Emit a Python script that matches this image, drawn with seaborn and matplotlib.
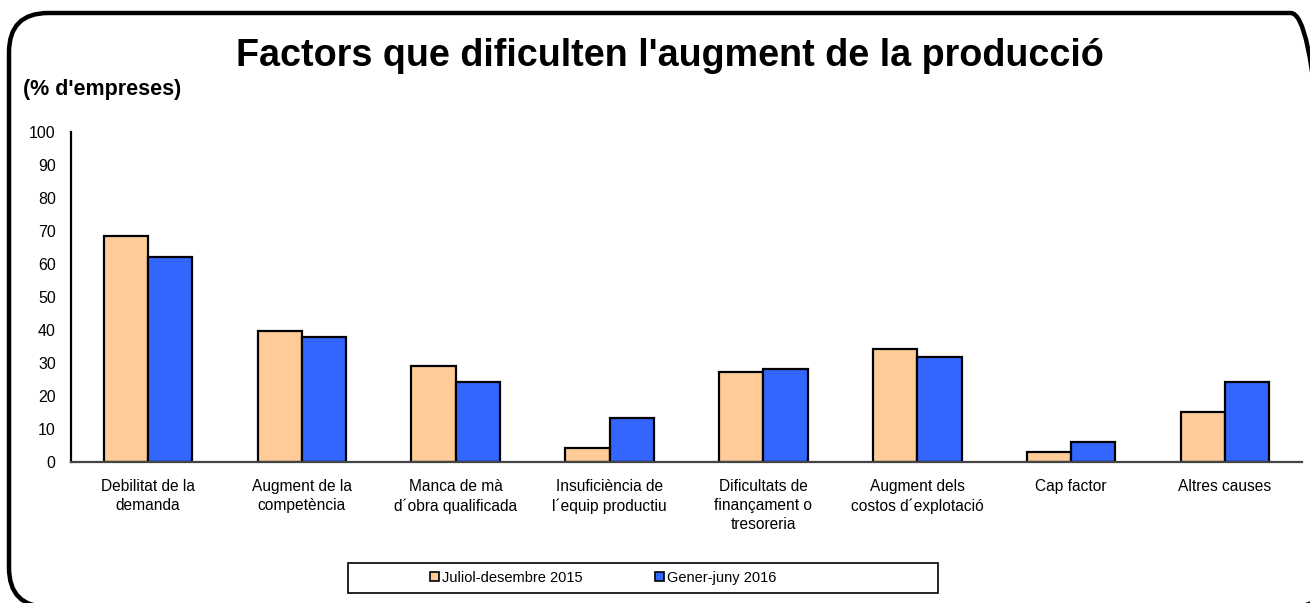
import matplotlib
matplotlib.use("Agg")
import matplotlib.pyplot as plt
import seaborn as sns
import pandas as pd
from matplotlib.patches import FancyBboxPatch, Rectangle, Patch

categories = [
    "Debilitat de la\ndemanda",
    "Augment de la\ncompetència",
    "Manca de mà\nd´obra qualificada",
    "Insuficiència de\nl´equip productiu",
    "Dificultats de\nfinançament o\ntresoreria",
    "Augment dels\ncostos d´explotació",
    "Cap factor",
    "Altres causes",
]
series_names = ["Juliol-desembre 2015", "Gener-juny 2016"]
values_2015 = [68.4, 39.8, 29.0, 4.3, 27.2, 34.3, 3.0, 15.1]
values_2016 = [62.2, 38.0, 24.2, 13.3, 28.3, 31.9, 6.1, 24.2]
colors = ["#FFCC99", "#3366FF"]
yticks = list(range(0, 101, 10))

df = pd.DataFrame({
    "cat": categories * 2,
    "val": values_2015 + values_2016,
    "serie": [series_names[0]] * len(categories) + [series_names[1]] * len(categories),
})

sns.set_style("white")
plt.rcParams["font.family"] = ["Liberation Sans", "DejaVu Sans"]
plt.rcParams["text.color"] = "black"
plt.rcParams["xtick.color"] = "black"
plt.rcParams["ytick.color"] = "black"
plt.rcParams["xtick.labelcolor"] = "black"
plt.rcParams["ytick.labelcolor"] = "black"

W, H = 1310, 603
fig = plt.figure(figsize=(W / 100, H / 100), dpi=100)
ax = fig.add_axes([71 / W, 1 - 462 / H, (1302 - 71) / W, (462 - 132) / H])

sns.barplot(data=df, x="cat", y="val", hue="serie", palette=colors,
            width=0.575, gap=0, edgecolor="black", linewidth=1.6,
            saturation=1, legend=False, ax=ax, order=categories,
            hue_order=series_names)

ax.set_xlim(-0.5, len(categories) - 0.5)
ax.set_ylim(0, 100)
ax.set_yticks(yticks)
ax.set_yticklabels([str(t) for t in yticks], fontsize=11.5, color="black")
ax.set_xticks(range(len(categories)))
ax.set_xticklabels(categories, fontsize=11.2, linespacing=1.35, color="black")
ax.set_xticks([i - 0.5 for i in range(len(categories) + 1)], minor=True)
ax.tick_params(axis="x", which="major", length=0, pad=12)
ax.tick_params(axis="x", which="minor", length=4, width=1, color="black", direction="out")
ax.tick_params(axis="y", length=5, width=1.2, color="black", direction="out", pad=6)
ax.set_xlabel("")
ax.set_ylabel("")
for s in ["top", "right"]:
    ax.spines[s].set_visible(False)
ax.spines["left"].set_color("black")
ax.spines["left"].set_linewidth(1.6)
ax.spines["bottom"].set_color("#444444")
ax.spines["bottom"].set_linewidth(1.6)

# Title and unit label
fig.text(670 / W, 1 - 56 / H, "Factors que dificulten l'augment de la producció",
         ha="center", va="center", fontsize=27.2, fontweight="bold", color="black")
fig.text(23 / W, 1 - 90 / H, "(% d'empreses)", ha="left", va="center",
         fontsize=15.5, fontweight="bold", color="black")

# Outer rounded frame
frame = FancyBboxPatch((9 / W, -4 / H), (1330 - 9) / W, (590 + 4) / H,
                       boxstyle="round,pad=0,rounding_size=0.03",
                       transform=fig.transFigure, fill=False,
                       edgecolor="black", linewidth=3.2, mutation_aspect=W / H)
fig.patches.append(frame)

# Legend box
box = Rectangle((348 / W, 1 - 593 / H), (938 - 348) / W, 30 / H,
                transform=fig.transFigure, fill=False, edgecolor="black", linewidth=1.2)
fig.patches.append(box)
handles = [Patch(facecolor=c, edgecolor="black", linewidth=1.2) for c in colors]
fig.legend(handles, series_names, loc="center", bbox_to_anchor=(603 / W, 1 - 578 / H),
           ncol=2, frameon=False, fontsize=10.5, handlelength=0.6, handleheight=0.6,
           handletextpad=0.2, columnspacing=5.0, labelcolor="black")

fig.savefig("out.png", dpi=100)
